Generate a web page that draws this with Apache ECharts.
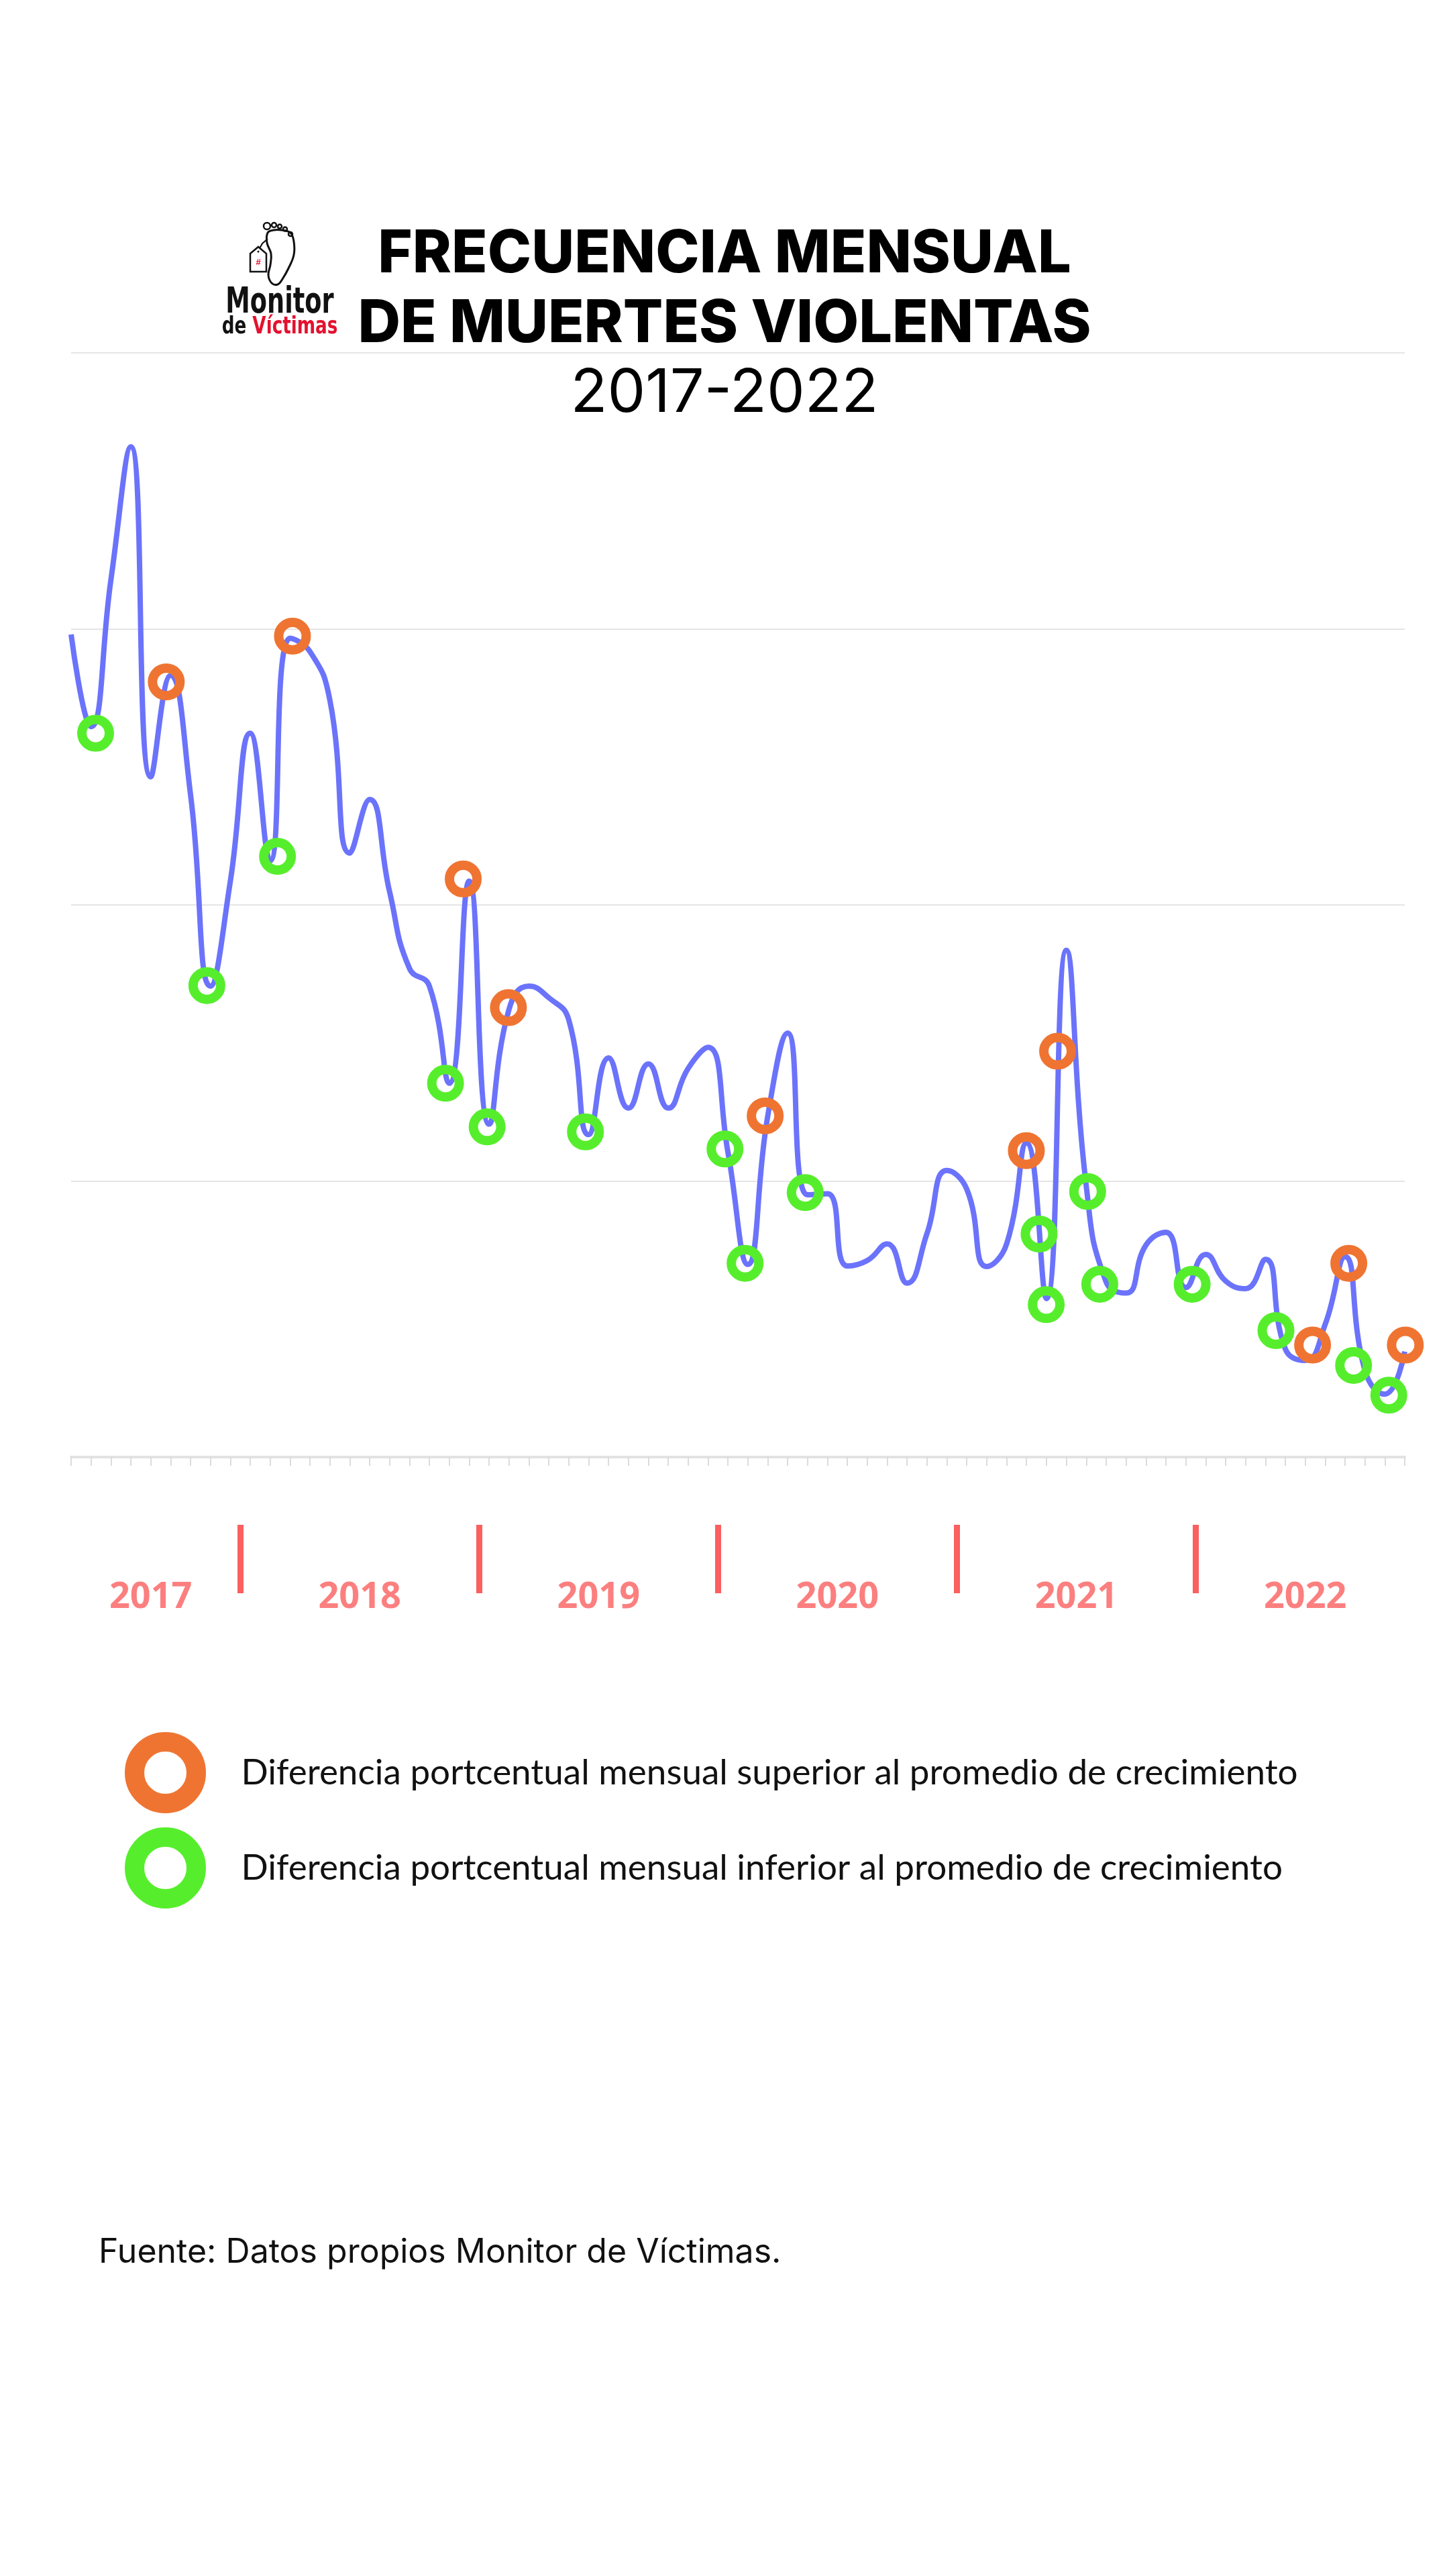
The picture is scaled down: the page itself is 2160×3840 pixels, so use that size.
<!DOCTYPE html>
<html>
<head>
<meta charset="utf-8">
<script src="https://cdn.jsdelivr.net/npm/echarts@6/dist/echarts.min.js"></script>
<style>
html,body{margin:0;padding:0;background:#fff;}
#chart{width:2160px;height:3840px;}
</style>
</head>
<body>
<div id="chart"></div>
<script>
// ---------- DATA ----------
const months = [
  'Abr 2017','May 2017','Jun 2017','Jul 2017','Ago 2017','Sep 2017','Oct 2017','Nov 2017','Dic 2017',
  'Ene 2018','Feb 2018','Mar 2018','Abr 2018','May 2018','Jun 2018','Jul 2018','Ago 2018','Sep 2018','Oct 2018','Nov 2018','Dic 2018',
  'Ene 2019','Feb 2019','Mar 2019','Abr 2019','May 2019','Jun 2019','Jul 2019','Ago 2019','Sep 2019','Oct 2019','Nov 2019','Dic 2019',
  'Ene 2020','Feb 2020','Mar 2020','Abr 2020','May 2020','Jun 2020','Jul 2020','Ago 2020','Sep 2020','Oct 2020','Nov 2020','Dic 2020',
  'Ene 2021','Feb 2021','Mar 2021','Abr 2021','May 2021','Jun 2021','Jul 2021','Ago 2021','Sep 2021','Oct 2021','Nov 2021','Dic 2021',
  'Ene 2022','Feb 2022','Mar 2022','Abr 2022','May 2022','Jun 2022','Jul 2022','Ago 2022','Sep 2022','Oct 2022','Nov 2022'
];

const deaths = [
  149.0, 132.3, 158.9, 183.0, 123.2, 141.6, 120.0, 85.3, 104.3,
  131.1, 108.0, 148.3, 145.9, 137.1, 109.4, 119.1, 102.4, 88.5, 85.3, 67.7, 104.3,
  60.3, 81.1, 85.3, 83.2, 79.2, 58.4, 72.3, 63.2, 71.2, 63.2, 70.4, 74.2,
  55.2, 34.9, 61.8, 76.8, 47.5, 47.7, 34.6, 35.6, 38.6, 31.5, 40.5, 51.9,
  48.5, 34.5, 38.6, 56.9, 28.7, 91.8, 49.1, 31.7, 29.7, 38.4, 40.7, 30.7,
  36.7, 31.9, 30.5, 35.8, 19.6, 17.5, 24.0, 36.3, 15.7, 11.4, 19.1
];

// circles as placed on the original (x in month index units, y in value units)
const superiorPoints = [
  [4.78,140.4],[11.12,148.7],[19.70,104.7],[21.97,81.4],[34.87,61.8],
  [47.99,55.5],[49.56,73.5],[62.37,20.3],[64.19,35.1],[67.03,20.3]
];
const inferiorPoints = [
  [1.23,131.1],[6.82,85.4],[10.37,108.8],[18.81,67.7],[20.90,59.8],[25.84,58.9],
  [32.85,55.8],[33.86,35.1],[36.88,47.9],[48.63,40.4],[48.99,27.6],[51.07,48.1],
  [51.68,31.3],[56.32,31.3],[60.53,22.9],[64.43,16.6],[66.20,11.2]
];

const years = ['2017','2018','2019','2020','2021','2022'];
const yAxisTicks = [0, 50, 100, 150, 200];

const supName = 'Diferencia portcentual mensual superior al promedio de crecimiento';
const infName = 'Diferencia portcentual mensual inferior al promedio de crecimiento';

// ---------- DERIVED ----------
const lineData = deaths.map((v, i) => [i, v]);
const lastIdx = months.length - 1;
const yearSeps = [];
months.forEach((m, i) => { if (m.indexOf('Ene') === 0) yearSeps.push(i - 0.5); });
const yearMid = years.map(y => {
  const idx = months.map((m, i) => m.endsWith(y) ? i : -1).filter(i => i >= 0);
  return { name: y, value: [(idx[0] + idx[idx.length - 1]) / 2, 0] };
});

const chart = echarts.init(document.getElementById('chart'), null, { renderer: 'canvas' });

const logoFont = '"Liberation Sans Narrow", "DejaVu Sans Condensed", "Liberation Sans", sans-serif';

const option = {
  backgroundColor: '#ffffff',
  animation: false,
  title: [
    {
      text: 'FRECUENCIA MENSUAL\nDE MUERTES VIOLENTAS',
      left: 'center', top: 328, padding: 0,
      textStyle: { fontFamily: 'Inter', fontWeight: 800, fontSize: 88, lineHeight: 104, color: '#000' }
    },
    {
      text: '2017-2022',
      left: 'center', top: 537, padding: 0,
      textStyle: { fontFamily: 'Inter', fontWeight: 400, fontSize: 90, lineHeight: 100, color: '#000' }
    },
    {
      text: 'Fuente: Datos propios Monitor de Víctimas.',
      left: 147, top: 3327, padding: 0,
      textStyle: { fontFamily: 'Inter', fontWeight: 400, fontSize: 50, lineHeight: 62, color: '#111' }
    }
  ],
  legend: {
    data: [supName, infName],
    orient: 'vertical',
    left: 186, top: 2582, padding: 0,
    itemWidth: 92, itemHeight: 92, itemGap: 21,
    itemStyle: { borderWidth: 29 },
    selectedMode: false,
    textStyle: { fontFamily: 'Lato', fontSize: 53, color: '#111', padding: [0, 0, 0, 62] }
  },
  grid: [
    { left: 106, right: 66, top: 526, bottom: 3840 - 2172 },
    { left: 106, right: 66, top: 2273, height: 102 }
  ],
  xAxis: [
    {
      gridIndex: 0, type: 'value', min: 0, max: lastIdx, interval: 1,
      axisLine: { show: true, lineStyle: { color: '#e2e2e2', width: 4 } },
      axisTick: { show: true, length: 13, lineStyle: { color: '#dcdcdc', width: 2 } },
      axisLabel: { show: false },
      splitLine: { show: false }
    },
    { gridIndex: 1, type: 'value', min: 0, max: lastIdx, show: false }
  ],
  yAxis: [
    {
      gridIndex: 0, type: 'value', min: yAxisTicks[0], max: yAxisTicks[yAxisTicks.length - 1],
      interval: yAxisTicks[1] - yAxisTicks[0],
      axisLine: { show: false }, axisTick: { show: false }, axisLabel: { show: false },
      splitLine: { show: true, lineStyle: { color: '#e5e5e5', width: 2 } }
    },
    { gridIndex: 1, type: 'value', min: 0, max: 1, show: false }
  ],
  series: [
    {
      name: 'Muertes violentas', type: 'line', data: lineData,
      smooth: 0.5, showSymbol: false, z: 3,
      lineStyle: { color: '#6b73fb', width: 8 }
    },
    {
      name: supName, type: 'scatter', data: superiorPoints, clip: false, z: 5,
      symbol: 'circle', symbolSize: 41,
      itemStyle: { color: 'rgba(255,255,255,0)', borderColor: '#ef7432', borderWidth: 14, opacity: 1 }
    },
    {
      name: infName, type: 'scatter', data: inferiorPoints, clip: false, z: 5,
      symbol: 'circle', symbolSize: 41,
      itemStyle: { color: 'rgba(255,255,255,0)', borderColor: '#56ee2c', borderWidth: 14, opacity: 1 }
    },
    {
      name: 'Años', type: 'scatter', xAxisIndex: 1, yAxisIndex: 1, clip: false,
      data: yearMid, symbolSize: 1, silent: true,
      itemStyle: { color: 'rgba(0,0,0,0)' },
      label: {
        show: true, position: 'inside', formatter: '{b}', offset: [0, 7],
        fontFamily: 'Open Sans', fontWeight: 700, fontSize: 54, color: '#fb5f5f'
      },
      markLine: {
        silent: true, symbol: ['none', 'none'], animation: false,
        label: { show: false },
        lineStyle: { color: '#fb5f5f', width: 9, type: 'solid' },
        data: yearSeps.map(x => ({ xAxis: x }))
      }
    }
  ],
  graphic: [
    {
      type: 'group', silent: true,
      children: [
        { type: 'polygon', shape: { smooth: 0.4, points: [[399,347],[398,362],[404,378],[403,395],[400,410],[405,422],[414,424],[421,416],[430,400],[438,380],[438,360],[433,347],[420,343],[408,343]] },
          style: { fill: 'none', stroke: '#111', lineWidth: 3 } },
        { type: 'circle', shape: { cx: 398, cy: 337, r: 5 }, style: { fill: 'none', stroke: '#111', lineWidth: 2.5 } },
        { type: 'circle', shape: { cx: 408.5, cy: 335.5, r: 3.5 }, style: { fill: 'none', stroke: '#111', lineWidth: 2.5 } },
        { type: 'circle', shape: { cx: 417, cy: 337.5, r: 3 }, style: { fill: 'none', stroke: '#111', lineWidth: 2.5 } },
        { type: 'circle', shape: { cx: 425, cy: 341.5, r: 3 }, style: { fill: 'none', stroke: '#111', lineWidth: 2.5 } },
        { type: 'circle', shape: { cx: 433, cy: 349, r: 3 }, style: { fill: 'none', stroke: '#111', lineWidth: 2.5 } },
        { type: 'polyline', shape: { points: [[385, 374], [391, 363], [399, 356]] }, style: { stroke: '#111', lineWidth: 2, fill: 'none' } },
        { type: 'polygon', shape: { points: [[373, 378], [385, 368], [397, 378], [397, 405], [373, 405]] }, style: { fill: '#fff', stroke: '#111', lineWidth: 2.5 } },
        { type: 'circle', shape: { cx: 385, cy: 375, r: 1.5 }, style: { fill: '#111' } },
        { type: 'text', style: { text: '#', x: 385, y: 391, align: 'center', verticalAlign: 'middle', font: 'bold 13px "Liberation Sans"', fill: '#e4112f' } },
        { type: 'text', x: 417, y: 452, scaleX: 0.77, style: { text: 'Monitor', x: 0, y: 0, align: 'center', verticalAlign: 'middle', font: 'bold 53px ' + logoFont, fill: '#111' } },
        { type: 'text', x: 417, y: 488, scaleX: 0.81, style: {
            text: '{a|de }{b|Víctimas}', x: 0, y: 0, align: 'center', verticalAlign: 'middle',
            rich: {
              a: { fontFamily: logoFont, fontWeight: 700, fontSize: 36, fill: '#111' },
              b: { fontFamily: logoFont, fontWeight: 700, fontSize: 36, fill: '#e4112f' }
            } } }
      ]
    }
  ]
};

chart.setOption(option);
</script>
</body>
</html>
